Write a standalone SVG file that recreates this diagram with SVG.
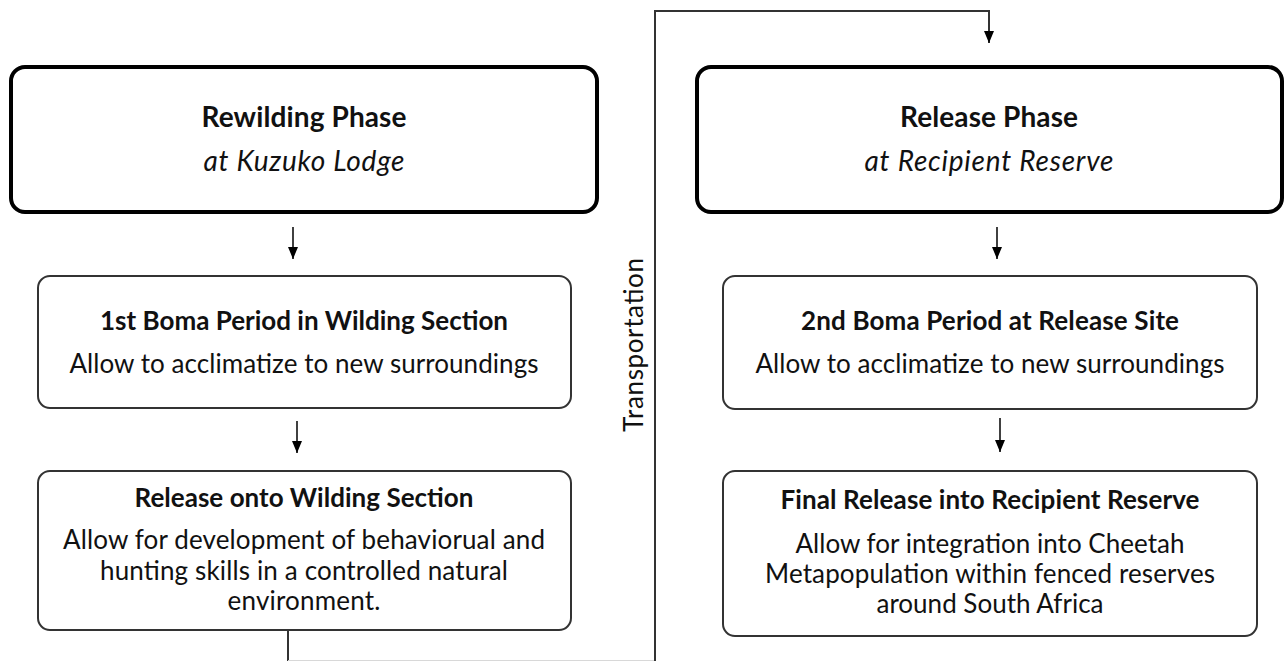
<svg xmlns="http://www.w3.org/2000/svg" width="1285" height="661" viewBox="0 0 1285 661">
<style>
.main{fill:#fff;stroke:#000;stroke-width:4}
.sub{fill:#fff;stroke:#333;stroke-width:2}
.t{font-family:Lato,"Liberation Sans",sans-serif;fill:#111;text-anchor:middle}
.h1{font-size:28px;font-weight:bold}
.it{font-size:28px;font-style:italic}
.h2{font-size:26px;font-weight:bold}
.b{font-size:26px}
.c{fill:none;stroke:#111;stroke-width:1.6}
.tr{fill:none;stroke:#333;stroke-width:2}
</style>
<defs>
<marker id="ah" markerWidth="12" markerHeight="10" refX="12" refY="5" orient="auto" markerUnits="userSpaceOnUse" viewBox="0 0 12 10">
<path d="M0,0 L12,5 L0,10 Z" fill="#000"/>
</marker>
</defs>
<g id="connectors">
<line class="c" x1="293" y1="227" x2="293" y2="259" marker-end="url(#ah)"/>
<line class="c" x1="297" y1="421" x2="297" y2="453" marker-end="url(#ah)"/>
<line class="c" x1="997" y1="227" x2="997" y2="259" marker-end="url(#ah)"/>
<line class="c" x1="1000" y1="418" x2="1000" y2="452" marker-end="url(#ah)"/>
<path class="tr" d="M288,630 L288,661"/>
<path d="M288,660.5 L655,660.5" fill="none" stroke="#d8d8d8" stroke-width="1"/>
<path class="tr" d="M655,661 L655,11 L989,11 L989,43" marker-end="url(#ah)"/>
<text class="t b" transform="translate(643,345) rotate(-90)" textLength="174">Transportation</text>
</g>
<g id="rewilding">
<rect class="main" x="11" y="67" width="586" height="145" rx="14"/>
<text class="t h1" x="304" y="127" textLength="205">Rewilding Phase</text>
<text class="t it" x="304" y="171" textLength="201">at Kuzuko Lodge</text>
</g>
<g id="release">
<rect class="main" x="697" y="67" width="585" height="145" rx="14"/>
<text class="t h1" x="989" y="127" textLength="178">Release Phase</text>
<text class="t it" x="989" y="171" textLength="249">at Recipient Reserve</text>
</g>
<g id="boma1">
<rect class="sub" x="38" y="276" width="533" height="132" rx="12"/>
<text class="t h2" x="304" y="330" textLength="408">1st Boma Period in Wilding Section</text>
<text class="t b" x="304" y="373" textLength="469">Allow to acclimatize to new surroundings</text>
</g>
<g id="wilding">
<rect class="sub" x="38" y="471" width="533" height="159" rx="12"/>
<text class="t h2" x="304" y="507" textLength="339">Release onto Wilding Section</text>
<text class="t b" x="304" y="549" textLength="482">Allow for development of behaviorual and</text>
<text class="t b" x="304" y="580" textLength="408">hunting skills in a controlled natural</text>
<text class="t b" x="304" y="610" textLength="153">environment.</text>
</g>
<g id="boma2">
<rect class="sub" x="723" y="276" width="534" height="133" rx="12"/>
<text class="t h2" x="990" y="330" textLength="378">2nd Boma Period at Release Site</text>
<text class="t b" x="990" y="373" textLength="469">Allow to acclimatize to new surroundings</text>
</g>
<g id="final">
<rect class="sub" x="723" y="471" width="534" height="165" rx="12"/>
<text class="t h2" x="990" y="509" textLength="419">Final Release into Recipient Reserve</text>
<text class="t b" x="990" y="553" textLength="389">Allow for integration into Cheetah</text>
<text class="t b" x="990" y="583" textLength="450">Metapopulation within fenced reserves</text>
<text class="t b" x="990" y="613" textLength="227">around South Africa</text>
</g>
</svg>
